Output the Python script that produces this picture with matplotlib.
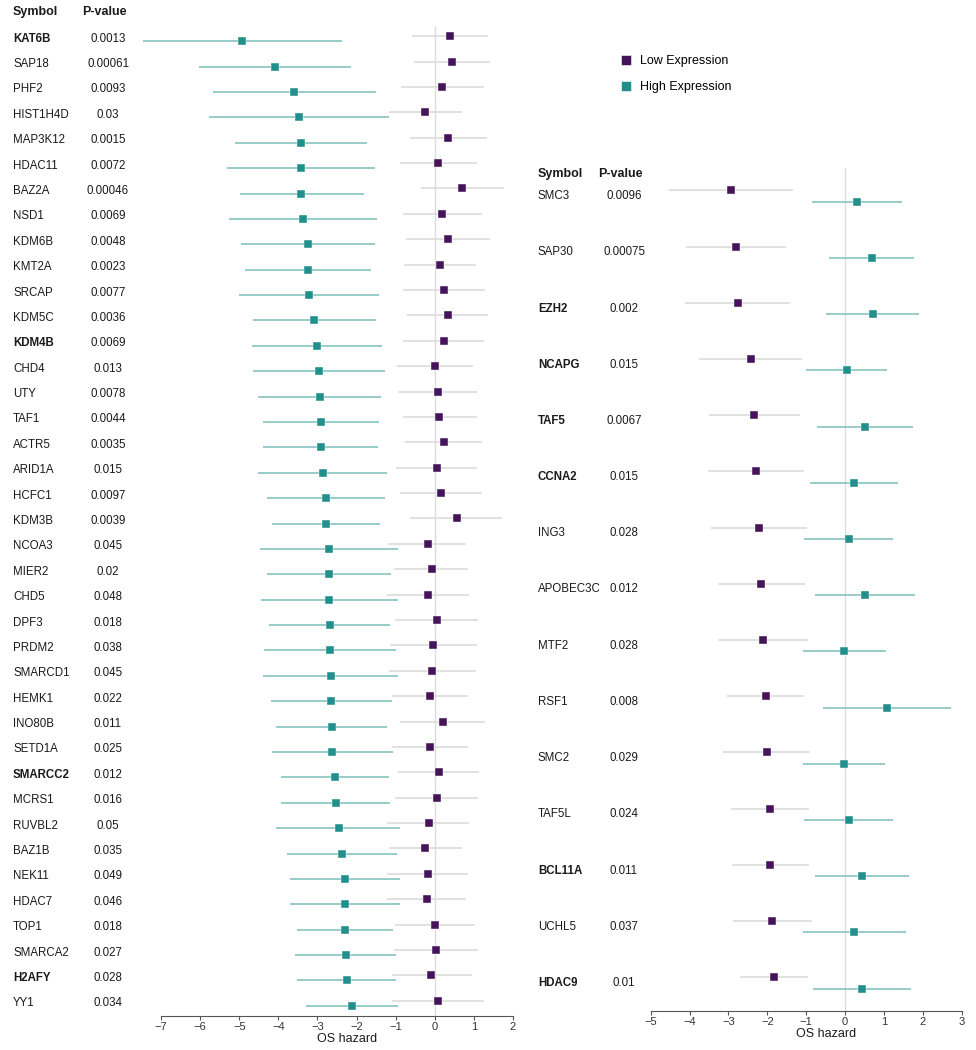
import numpy as np
import matplotlib
matplotlib.use("Agg")
import matplotlib.pyplot as plt
from matplotlib.lines import Line2D
from matplotlib.transforms import blended_transform_factory

plt.rcParams['font.family'] = ['Liberation Sans', 'DejaVu Sans']

# ---- left panel data ----
genes_l = ['KAT6B', 'SAP18', 'PHF2', 'HIST1H4D', 'MAP3K12', 'HDAC11', 'BAZ2A', 'NSD1', 'KDM6B',
           'KMT2A', 'SRCAP', 'KDM5C', 'KDM4B', 'CHD4', 'UTY', 'TAF1', 'ACTR5', 'ARID1A', 'HCFC1',
           'KDM3B', 'NCOA3', 'MIER2', 'CHD5', 'DPF3', 'PRDM2', 'SMARCD1', 'HEMK1', 'INO80B', 'SETD1A',
           'SMARCC2', 'MCRS1', 'RUVBL2', 'BAZ1B', 'NEK11', 'HDAC7', 'TOP1', 'SMARCA2', 'H2AFY', 'YY1']
pval_l = ['0.0013', '0.00061', '0.0093', '0.03', '0.0015', '0.0072', '0.00046', '0.0069', '0.0048',
          '0.0023', '0.0077', '0.0036', '0.0069', '0.013', '0.0078', '0.0044', '0.0035', '0.015', '0.0097',
          '0.0039', '0.045', '0.02', '0.048', '0.018', '0.038', '0.045', '0.022', '0.011', '0.025',
          '0.012', '0.016', '0.05', '0.035', '0.049', '0.046', '0.018', '0.027', '0.028', '0.034']
bold_l = ['KAT6B', 'KDM4B', 'SMARCC2', 'H2AFY']
low_l = [0.39, 0.44, 0.18, -0.24, 0.35, 0.09, 0.70, 0.18, 0.33,
         0.13, 0.24, 0.33, 0.23, 0.01, 0.09, 0.12, 0.24, 0.05, 0.17,
         0.56, -0.18, -0.08, -0.17, 0.06, -0.04, -0.06, -0.12, 0.20, -0.12,
         0.11, 0.06, -0.16, -0.24, -0.18, -0.21, 0.00, 0.02, -0.09, 0.08]
low_lo_l = [-0.58, -0.52, -0.86, -1.16, -0.63, -0.89, -0.35, -0.82, -0.74,
            -0.78, -0.81, -0.71, -0.81, -0.97, -0.93, -0.82, -0.75, -0.99, -0.88,
            -0.63, -1.19, -1.05, -1.21, -1.01, -1.15, -1.16, -1.10, -0.89, -1.10,
            -0.93, -1.01, -1.21, -1.18, -1.22, -1.21, -1.02, -1.05, -1.10, -1.10]
low_hi_l = [1.37, 1.41, 1.27, 0.70, 1.33, 1.08, 1.76, 1.21, 1.41,
            1.05, 1.28, 1.37, 1.25, 0.99, 1.09, 1.08, 1.22, 1.08, 1.22,
            1.73, 0.80, 0.86, 0.88, 1.11, 1.07, 1.05, 0.84, 1.29, 0.86,
            1.14, 1.11, 0.88, 0.70, 0.84, 0.80, 1.04, 1.11, 0.94, 1.27]
high_l = [-4.92, -4.09, -3.59, -3.47, -3.42, -3.41, -3.41, -3.37, -3.24,
          -3.24, -3.22, -3.09, -3.02, -2.97, -2.94, -2.91, -2.91, -2.87, -2.77,
          -2.77, -2.71, -2.71, -2.70, -2.69, -2.67, -2.65, -2.65, -2.63, -2.62,
          -2.54, -2.53, -2.46, -2.37, -2.30, -2.29, -2.29, -2.27, -2.25, -2.12]
high_lo_l = [-7.47, -6.04, -5.66, -5.77, -5.10, -5.30, -4.97, -5.26, -4.96,
             -4.85, -5.00, -4.66, -4.68, -4.66, -4.51, -4.40, -4.38, -4.51, -4.28,
             -4.15, -4.47, -4.28, -4.45, -4.24, -4.36, -4.39, -4.19, -4.06, -4.17,
             -3.92, -3.92, -4.05, -3.78, -3.70, -3.70, -3.51, -3.57, -3.51, -3.29]
high_hi_l = [-2.36, -2.14, -1.50, -1.16, -1.73, -1.52, -1.82, -1.48, -1.53,
             -1.62, -1.42, -1.50, -1.36, -1.27, -1.38, -1.42, -1.44, -1.22, -1.27,
             -1.39, -0.93, -1.12, -0.93, -1.15, -0.99, -0.93, -1.10, -1.21, -1.08,
             -1.16, -1.14, -0.88, -0.97, -0.88, -0.88, -1.06, -0.98, -0.99, -0.93]

# ---- right panel data ----
genes_r = ['SMC3', 'SAP30', 'EZH2', 'NCAPG', 'TAF5', 'CCNA2', 'ING3', 'APOBEC3C', 'MTF2', 'RSF1',
           'SMC2', 'TAF5L', 'BCL11A', 'UCHL5', 'HDAC9']
pval_r = ['0.0096', '0.00075', '0.002', '0.015', '0.0067', '0.015', '0.028', '0.012', '0.028', '0.008',
          '0.029', '0.024', '0.011', '0.037', '0.01']
bold_r = ['EZH2', 'NCAPG', 'TAF5', 'CCNA2', 'BCL11A', 'HDAC9']
low_r = [-2.93, -2.81, -2.76, -2.42, -2.33, -2.29, -2.22, -2.16, -2.11, -2.04,
         -2.01, -1.94, -1.92, -1.87, -1.83]
low_lo_r = [-4.52, -4.09, -4.11, -3.75, -3.50, -3.52, -3.46, -3.28, -3.26, -3.03,
            -3.13, -2.93, -2.90, -2.89, -2.70]
low_hi_r = [-1.33, -1.53, -1.41, -1.10, -1.17, -1.05, -0.97, -1.02, -0.95, -1.05,
            -0.90, -0.93, -0.93, -0.85, -0.96]
high_r = [0.30, 0.68, 0.71, 0.04, 0.51, 0.22, 0.09, 0.51, -0.02, 1.08,
          -0.03, 0.09, 0.44, 0.24, 0.44]
high_lo_r = [-0.85, -0.41, -0.48, -1.00, -0.71, -0.90, -1.05, -0.77, -1.08, -0.57,
             -1.08, -1.05, -0.78, -1.08, -0.82]
high_hi_r = [1.46, 1.77, 1.91, 1.09, 1.74, 1.35, 1.23, 1.81, 1.05, 2.72,
             1.02, 1.23, 1.65, 1.57, 1.69]

low_col = '#45135a'
high_col = '#21908c'
low_ci = '#dcdcdc'
high_ci = '#86c4bf'
txt = '#1a1a1a'
W, H = 976, 1050

fig = plt.figure(figsize=(W / 100, H / 100), dpi=100)


def px(x):
    return x / W


def py(y):
    return 1 - y / H


def forest(ax, genes, pvals, bold, low, llo, lhi, high, hlo, hhi, xlim, sym_x, p_x, head_y):
    n = len(genes)
    y = np.arange(n)
    d = 0.1
    ax.axvline(0, color='#dcdcdc', lw=1, zorder=0)
    ax.hlines(y - d, llo, lhi, color=low_ci, lw=1.2, clip_on=False, zorder=1)
    ax.hlines(y + d, hlo, hhi, color=high_ci, lw=1.2, clip_on=False, zorder=1)
    ax.plot(low, y - d, 's', color=low_col, ms=5.3, mec='white', mew=0.3, clip_on=False, zorder=3)
    ax.plot(high, y + d, 's', color=high_col, ms=5.3, mec='white', mew=0.3, clip_on=False, zorder=3)
    ax.set_ylim(n - 0.5, -0.5)
    ax.set_xlim(*xlim)
    ax.set_xticks(range(xlim[0], xlim[1] + 1))
    ax.set_yticks([])
    for s in ['top', 'right', 'left']:
        ax.spines[s].set_visible(False)
    ax.spines['bottom'].set_color('#555555')
    ax.tick_params(axis='x', colors='#555555', labelcolor='#333333', labelsize=8, length=3, pad=1.5)
    ax.patch.set_alpha(0)
    tr = blended_transform_factory(fig.transFigure, ax.transData)
    for i, g in enumerate(genes):
        ax.text(px(sym_x), i, g, transform=tr, ha='left', va='center', fontsize=8.3, color=txt,
                fontweight='bold' if g in bold else 'normal')
        ax.text(px(p_x), i, pvals[i], transform=tr, ha='center', va='center', fontsize=8.3, color=txt)
    fig.text(px(sym_x), py(head_y), 'Symbol', ha='left', va='center', fontsize=9,
             fontweight='bold', color=txt)
    fig.text(px(p_x - 4), py(head_y), 'P-value', ha='center', va='center', fontsize=9,
             fontweight='bold', color=txt)


ax1 = fig.add_axes([px(161), py(1016), px(513 - 161), (1016 - 26) / H])
forest(ax1, genes_l, pval_l, bold_l, low_l, low_lo_l, low_hi_l, high_l, high_lo_l, high_hi_l,
       (-7, 2), 13, 108, 12)
fig.text(px(347), py(1039), 'OS hazard', ha='center', va='center', fontsize=9, color=txt)

ax2 = fig.add_axes([px(650.7), py(1011), px(961.7 - 650.7), (1011 - 168) / H])
forest(ax2, genes_r, pval_r, bold_r, low_r, low_lo_r, low_hi_r, high_r, high_lo_r, high_hi_r,
       (-5, 3), 538, 624, 174)
fig.text(px(826), py(1034), 'OS hazard', ha='center', va='center', fontsize=9, color=txt)

handles = [Line2D([], [], ls='none', marker='s', ms=7.2, color=low_col, mec='white', mew=0.4),
           Line2D([], [], ls='none', marker='s', ms=7.2, color=high_col, mec='white', mew=0.4)]
fig.legend(handles, ['Low Expression', 'High Expression'], loc='upper left',
           bbox_to_anchor=(px(612), py(50)), frameon=False, fontsize=9, handletextpad=0.3,
           labelspacing=1.15, handlelength=1.5, borderaxespad=0)

fig.savefig('out.png', dpi=100)
